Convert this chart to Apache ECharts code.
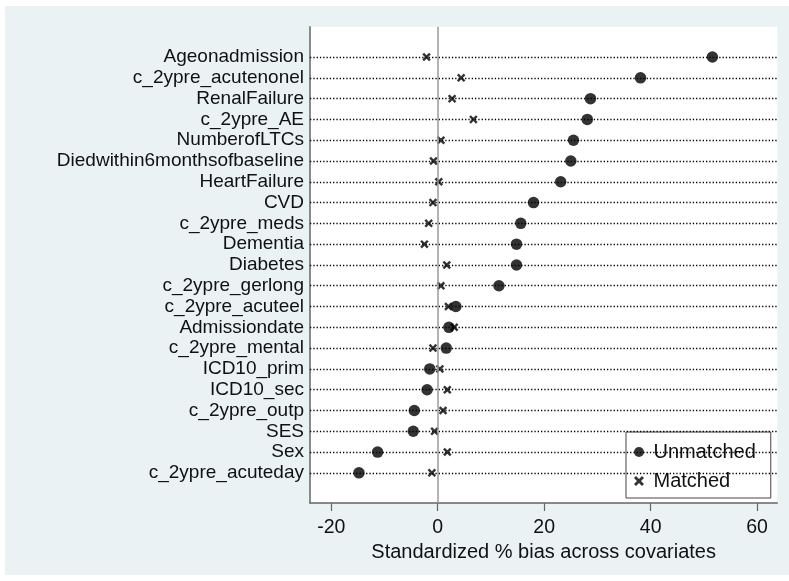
<!DOCTYPE html>
<html>
<head>
<meta charset="utf-8">
<script src="https://cdn.jsdelivr.net/npm/echarts@6/dist/echarts.min.js"></script>
<style>
  html, body { margin: 0; padding: 0; background: #ffffff; width: 789px; height: 581px; overflow: hidden; }
  #chart { position: absolute; left: 5px; top: 6px; width: 784px; height: 569px; background: #EAF2F3; }
</style>
</head>
<body>
<div id="chart"></div>
<script>
const categories = ['Ageonadmission', 'c_2ypre_acutenonel', 'RenalFailure', 'c_2ypre_AE', 'NumberofLTCs',
  'Diedwithin6monthsofbaseline', 'HeartFailure', 'CVD', 'c_2ypre_meds', 'Dementia', 'Diabetes',
  'c_2ypre_gerlong', 'c_2ypre_acuteel', 'Admissiondate', 'c_2ypre_mental', 'ICD10_prim', 'ICD10_sec',
  'c_2ypre_outp', 'SES', 'Sex', 'c_2ypre_acuteday'];
const unmatched = [51.6, 38.1, 28.7, 28.1, 25.5, 25.0, 23.1, 18.0, 15.6, 14.8, 14.8, 11.5, 3.4, 2.1, 1.6, -1.5, -2.0, -4.4, -4.6, -11.3, -14.8];
const matched = [-2.1, 4.4, 2.7, 6.7, 0.6, -0.8, 0.2, -0.9, -1.7, -2.5, 1.7, 0.6, 2.0, 3.1, -0.9, 0.4, 1.8, 1.0, -0.6, 1.8, -1.1];
const xTicks = [-20, 0, 20, 40, 60];
const xTitle = 'Standardized % bias across covariates';
const seriesNames = ['Unmatched', 'Matched'];

const FONT = "'Liberation Sans', Arial, Helvetica, sans-serif";
const xPath = 'path://M0,2 L2,0 L5,3 L8,0 L10,2 L7,5 L10,8 L8,10 L5,7 L2,10 L0,8 L3,5 Z';
const rowIdx = categories.map((c, i) => i);

const chart = echarts.init(document.getElementById('chart'), null, { renderer: 'canvas' });
chart.setOption({
  animation: false,
  backgroundColor: 'transparent',
  textStyle: { fontFamily: FONT },
  grid: {
    left: 305, top: 20.7, right: 11.7, bottom: 72,
    show: true, backgroundColor: '#ffffff', borderWidth: 0
  },
  xAxis: {
    type: 'value', min: -24, max: 63.8,
    name: xTitle, nameLocation: 'middle', nameGap: 33,
    nameTextStyle: { fontSize: 20, color: '#111111', fontFamily: FONT },
    axisLine: { show: true, onZero: false, lineStyle: { color: '#666666', width: 1.5 } },
    axisTick: { show: true, length: 8, customValues: xTicks, lineStyle: { color: '#666666', width: 1.2 } },
    axisLabel: { customValues: xTicks, margin: 15, fontSize: 19.5, color: '#111111', fontFamily: FONT },
    splitLine: { show: false }
  },
  yAxis: {
    type: 'value', inverse: true, min: -1.46, max: 21.45,
    axisLine: { show: true, onZero: false, lineStyle: { color: '#666666', width: 1.5 } },
    axisTick: { show: false },
    axisLabel: {
      customValues: rowIdx, margin: 6, fontSize: 19, color: '#111111', fontFamily: FONT,
      formatter: v => categories[Math.round(v)]
    },
    splitLine: { show: false }
  },
  legend: {
    orient: 'vertical', left: 621, top: 426,
    backgroundColor: '#ffffff', borderColor: '#444444', borderWidth: 1,
    padding: [10, 15, 7, 8], itemGap: 9, itemWidth: 19, itemHeight: 10,
    textStyle: { fontSize: 20, color: '#111111', fontFamily: FONT, lineHeight: 20 },
    data: [
      { name: seriesNames[0], icon: 'circle' },
      { name: seriesNames[1], icon: xPath }
    ]
  },
  series: [
    {
      type: 'line', data: [], silent: true, z: 1,
      markLine: {
        silent: true, symbol: 'none', animation: false,
        label: { show: false },
        lineStyle: { color: '#000000', width: 1.3, type: [1.3, 2] },
        data: rowIdx.map(i => ({ yAxis: i }))
      }
    },
    {
      type: 'line', data: [], silent: true, z: 2,
      markLine: {
        silent: true, symbol: 'none', animation: false,
        label: { show: false },
        lineStyle: { color: '#9a9a9a', width: 1.5, type: 'solid' },
        data: [{ xAxis: 0 }]
      }
    },
    {
      name: seriesNames[0], type: 'scatter', z: 3,
      symbol: 'circle', symbolSize: 11.5,
      itemStyle: { color: '#000000' },
      data: unmatched.map((v, i) => [v, i])
    },
    {
      name: seriesNames[1], type: 'scatter', z: 4,
      symbol: xPath, symbolSize: 8.5,
      itemStyle: { color: '#000000' },
      data: matched.map((v, i) => [v, i])
    }
  ]
});
</script>
</body>
</html>
